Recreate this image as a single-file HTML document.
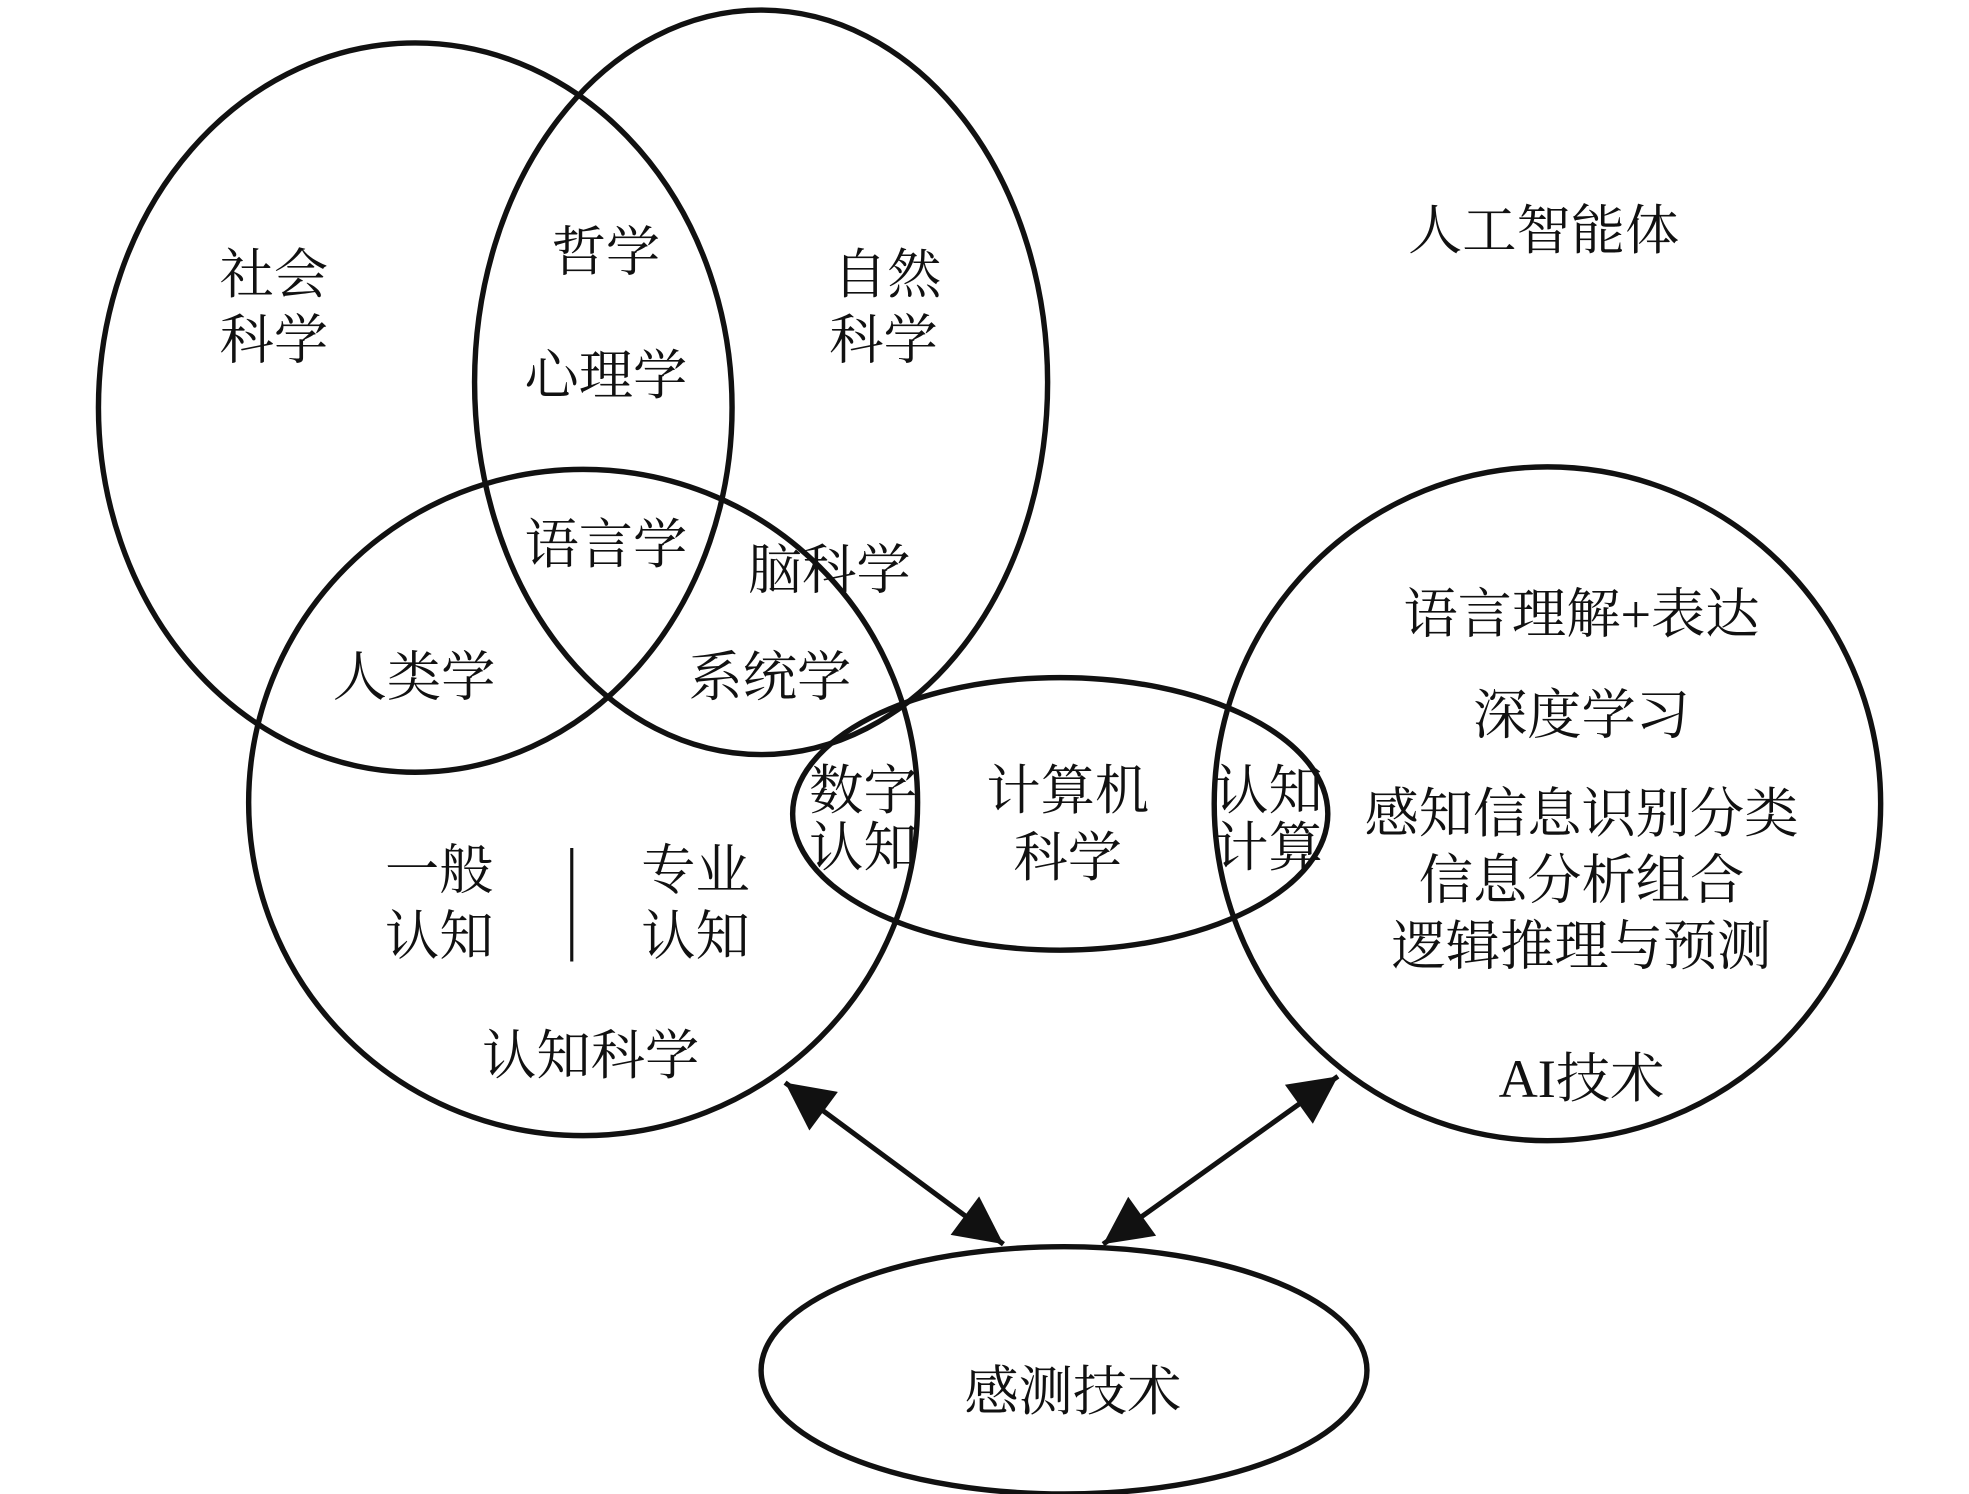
<!DOCTYPE html>
<html><head><meta charset="utf-8"><style>
html,body{margin:0;padding:0;background:#fff;}
svg{display:block;}
text{font-family:"Liberation Serif","Noto Serif CJK SC",serif;font-size:43px;fill:#111;text-anchor:middle;dominant-baseline:central;}
</style></head><body>
<svg width="1969" height="1494" viewBox="0 0 1560 1184" preserveAspectRatio="none" xmlns="http://www.w3.org/2000/svg">
<defs>
<marker id="a" viewBox="0 0 10 10" refX="10" refY="5" markerWidth="13" markerHeight="9.5" orient="auto-start-reverse" markerUnits="strokeWidth">
<path d="M0,0 L10,5 L0,10 z" fill="#111"/></marker>
</defs>
<g fill="none" stroke="#111" stroke-width="4.3">
<ellipse cx="329" cy="323" rx="251" ry="289"/>
<ellipse cx="603" cy="303" rx="227" ry="295"/>
<ellipse cx="462" cy="636" rx="265" ry="264"/>
<ellipse cx="840" cy="645" rx="212" ry="108"/>
<ellipse cx="1226" cy="637" rx="264" ry="267"/>
<ellipse cx="843" cy="1086" rx="240" ry="98"/>
<line x1="453" y1="672" x2="453" y2="762" stroke-width="2.5"/>
<line x1="622" y1="858" x2="795" y2="986" stroke-width="4" marker-start="url(#a)" marker-end="url(#a)"/>
<line x1="1060" y1="853" x2="874" y2="986" stroke-width="4" marker-start="url(#a)" marker-end="url(#a)"/>
</g>
<text x="217" y="218">社会</text><text x="217" y="270">科学</text>
<text x="480" y="200">哲学</text><text x="480" y="298">心理学</text>
<text x="703" y="218">自然</text><text x="700" y="270">科学</text>
<text x="1223" y="183">人工智能体</text>
<text x="480" y="432">语言学</text><text x="657" y="452">脑科学</text>
<text x="328" y="537">人类学</text><text x="610" y="537">系统学</text>
<text x="684" y="627">数字</text><text x="684" y="672">认知</text>
<text x="846" y="627">计算机</text><text x="846" y="680">科学</text>
<text x="1005" y="627">认知</text><text x="1005" y="672">计算</text>
<text x="348" y="690">一般</text><text x="348" y="742">认知</text>
<text x="551" y="690">专业</text><text x="551" y="742">认知</text>
<text x="468" y="837">认知科学</text>
<text x="1253" y="487">语言理解+表达</text>
<text x="1253" y="567">深度学习</text>
<text x="1253" y="645">感知信息识别分类</text>
<text x="1253" y="698">信息分析组合</text>
<text x="1253" y="750">逻辑推理与预测</text>
<text x="1253" y="855">AI技术</text>
<text x="850" y="1103">感测技术</text>
</svg>
</body></html>
